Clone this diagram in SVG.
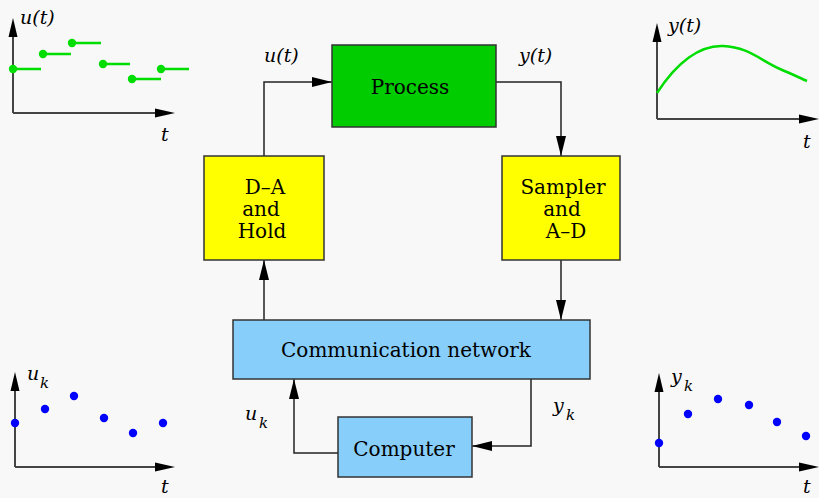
<svg xmlns="http://www.w3.org/2000/svg" width="819" height="498" viewBox="0 0 819 498">
<defs>
<marker id="ah" markerUnits="userSpaceOnUse" markerWidth="20" markerHeight="10" refX="20" refY="5" orient="auto">
<path d="M0,0 L20,5 L0,10 Z" fill="#000"/>
</marker>
<style>
.box{stroke:#333;stroke-width:1.5}
.lbl{font-family:"DejaVu Serif","Liberation Serif",serif;font-size:20px;fill:#000;text-anchor:middle}
.it{font-family:"DejaVu Serif","Liberation Serif",serif;font-size:19px;font-style:italic;fill:#000}
.sub{font-family:"DejaVu Serif","Liberation Serif",serif;font-size:15px;font-style:italic;fill:#000}
.conn{fill:none;stroke:#222;stroke-width:1.5}
.axis{fill:none;stroke:#444;stroke-width:2}
.gl{stroke:#00dd00;stroke-width:2.5}
.gd{fill:#00dd00}
.bd{fill:#0000ff}
</style>
</defs>
<rect width="819" height="498" fill="#f8f8f8"/>

<g id="connectors">
<path class="conn" d="M264,156 V82 H332" marker-end="url(#ah)"/>
<path class="conn" d="M496,82 H561 V156" marker-end="url(#ah)"/>
<path class="conn" d="M264,320 V260" marker-end="url(#ah)"/>
<path class="conn" d="M561,260 V320" marker-end="url(#ah)"/>
<path class="conn" d="M338,453 H294 V379" marker-end="url(#ah)"/>
<path class="conn" d="M531,379 V446 H472" marker-end="url(#ah)"/>
</g>

<g id="process">
<rect class="box" x="332" y="45" width="164" height="82" fill="#00cc00"/>
<text class="lbl" x="410" y="94">Process</text>
</g>
<g id="da-hold">
<rect class="box" x="204" y="156" width="120" height="104" fill="#ffff00"/>
<text class="lbl" x="265" y="194">D–A</text>
<text class="lbl" x="261" y="216">and</text>
<text class="lbl" x="262" y="238">Hold</text>
</g>
<g id="sampler">
<rect class="box" x="502" y="156" width="118" height="104" fill="#ffff00"/>
<text class="lbl" x="563" y="194">Sampler</text>
<text class="lbl" x="562" y="216">and</text>
<text class="lbl" x="566" y="238">A–D</text>
</g>
<g id="network">
<rect class="box" x="233" y="320" width="357" height="59" fill="#87cefa"/>
<text class="lbl" x="406" y="357">Communication network</text>
</g>
<g id="computer">
<rect class="box" x="338" y="417" width="134" height="60" fill="#87cefa"/>
<text class="lbl" x="404" y="456">Computer</text>
</g>

<g id="labels">
<text class="it" x="264" y="62">u(t)</text>
<text class="it" x="519" y="62">y(t)</text>
<text class="it" x="245" y="420">u</text><text class="sub" x="259" y="428">k</text>
<text class="it" x="553" y="412">y</text><text class="sub" x="566" y="420">k</text>
</g>

<g id="plot-ut">
<path class="axis" d="M13,113 V34 M13,113 H156"/>
<path d="M13,18 L8.5,37 L17.5,37 Z" fill="#000"/>
<path d="M175,113 L155,108.5 L155,117.5 Z" fill="#000"/>
<line class="gl" x1="13" y1="69" x2="41" y2="69"/>
<line class="gl" x1="43" y1="54" x2="71" y2="54"/>
<line class="gl" x1="72" y1="43" x2="101" y2="43"/>
<line class="gl" x1="103" y1="64" x2="130" y2="64"/>
<line class="gl" x1="132" y1="79" x2="161" y2="79"/>
<line class="gl" x1="161" y1="69" x2="189" y2="69"/>
<circle class="gd" cx="13" cy="69" r="4.2"/>
<circle class="gd" cx="43" cy="54" r="4.2"/>
<circle class="gd" cx="72" cy="43" r="4.2"/>
<circle class="gd" cx="103" cy="64" r="4.2"/>
<circle class="gd" cx="132" cy="79" r="4.2"/>
<circle class="gd" cx="161" cy="69" r="4.2"/>
<text class="it" x="20" y="24">u(t)</text>
<text class="it" x="161" y="141">t</text>
</g>

<g id="plot-yt">
<path class="axis" d="M657,119 V40 M657,119 H800"/>
<path d="M657,23 L652.5,42 L661.5,42 Z" fill="#000"/>
<path d="M819,119 L799,114.5 L799,123.5 Z" fill="#000"/>
<path d="M657,93 C677,62 700,45 723,46 C748,47 760,60 780,69 C792,74 800,78 807,81" fill="none" stroke="#00dd00" stroke-width="2.5"/>
<text class="it" x="668" y="32">y(t)</text>
<text class="it" x="803" y="148">t</text>
</g>

<g id="plot-uk">
<path class="axis" d="M15,467 V390 M15,467 H156"/>
<path d="M15,372 L10.5,391 L19.5,391 Z" fill="#000"/>
<path d="M175,467 L155,462.5 L155,471.5 Z" fill="#000"/>
<circle class="bd" cx="15" cy="423" r="4.2"/>
<circle class="bd" cx="45" cy="409" r="4.2"/>
<circle class="bd" cx="74" cy="396" r="4.2"/>
<circle class="bd" cx="104" cy="418" r="4.2"/>
<circle class="bd" cx="133" cy="433" r="4.2"/>
<circle class="bd" cx="163" cy="423" r="4.2"/>
<text class="it" x="27" y="380">u</text><text class="sub" x="40" y="388">k</text>
<text class="it" x="161" y="493">t</text>
</g>

<g id="plot-yk">
<path class="axis" d="M659,467 V390 M659,467 H800"/>
<path d="M659,373 L654.5,392 L663.5,392 Z" fill="#000"/>
<path d="M819,467 L799,462.5 L799,471.5 Z" fill="#000"/>
<circle class="bd" cx="659" cy="443" r="4.2"/>
<circle class="bd" cx="688" cy="414" r="4.2"/>
<circle class="bd" cx="718" cy="399" r="4.2"/>
<circle class="bd" cx="749" cy="405" r="4.2"/>
<circle class="bd" cx="777" cy="422" r="4.2"/>
<circle class="bd" cx="806" cy="436" r="4.2"/>
<text class="it" x="671" y="383">y</text><text class="sub" x="684" y="391">k</text>
<text class="it" x="803" y="493">t</text>
</g>
</svg>
